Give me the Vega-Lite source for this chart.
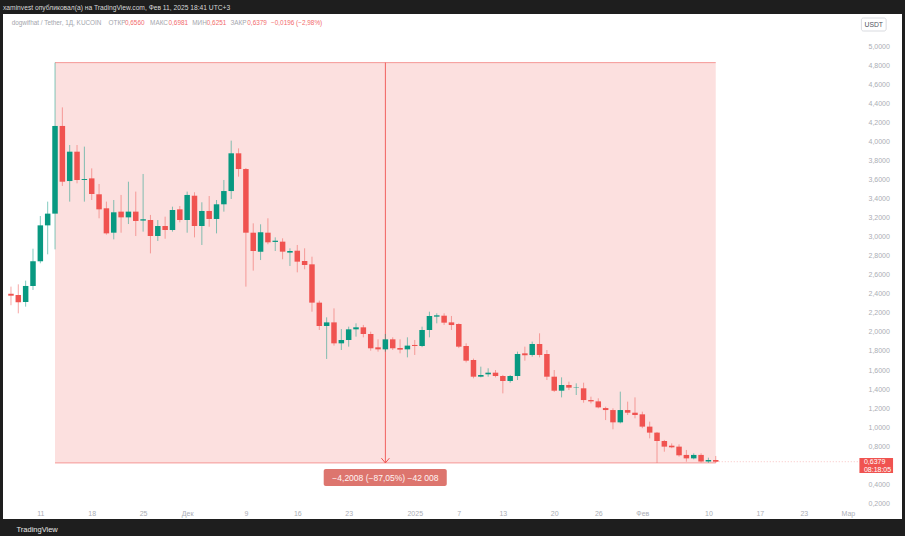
{
  "$schema": "https://vega.github.io/schema/vega-lite/v6.json",
  "width": 899,
  "height": 505,
  "autosize": {"type": "none"},
  "padding": {"left": 3, "top": 14, "right": 3, "bottom": 17},
  "background": "#1e1e1e",
  "title": {
    "text": "xaminvest опубликовал(а) на TradingView.com, Фев 11, 2025 18:41 UTC+3",
    "anchor": "start", "orient": "top", "frame": "group", "offset": 2,
    "fontSize": 6.7, "font": "Liberation Sans", "fontWeight": "normal", "color": "#d8d8d8"
  },
  "config": {
    "view": {"fill": "white", "stroke": null},
    "font": "Liberation Sans",
    "axis": {"labelOverlap": false, "labelBound": false, "labelFlush": false}
  },
  "datasets": {
    "zone": [{"start": "2024-11-13", "end": "2025-02-11", "top": 4.8257, "bottom": 0.6249, "mid": "2024-12-28"}],
    "edges": [
      {"start": "2024-11-13", "end": "2025-02-11", "level": 4.8257},
      {"start": "2024-11-13", "end": "2025-02-11", "level": 0.6249}
    ],
    "candles": [
      {"date": "2024-11-07", "open": 2.40, "high": 2.475, "low": 2.28, "close": 2.38},
      {"date": "2024-11-08", "open": 2.387, "high": 2.499, "low": 2.195, "close": 2.31},
      {"date": "2024-11-09", "open": 2.314, "high": 2.538, "low": 2.265, "close": 2.482},
      {"date": "2024-11-10", "open": 2.482, "high": 2.873, "low": 2.44, "close": 2.741},
      {"date": "2024-11-11", "open": 2.741, "high": 3.216, "low": 2.72, "close": 3.118},
      {"date": "2024-11-12", "open": 3.118, "high": 3.367, "low": 2.814, "close": 3.241},
      {"date": "2024-11-13", "open": 3.241, "high": 4.8257, "low": 2.866, "close": 4.161},
      {"date": "2024-11-14", "open": 4.161, "high": 4.356, "low": 3.531, "close": 3.576},
      {"date": "2024-11-15", "open": 3.583, "high": 3.961, "low": 3.367, "close": 3.891},
      {"date": "2024-11-16", "open": 3.891, "high": 3.961, "low": 3.559, "close": 3.594},
      {"date": "2024-11-17", "open": 3.594, "high": 3.944, "low": 3.367, "close": 3.604},
      {"date": "2024-11-18", "open": 3.611, "high": 3.716, "low": 3.384, "close": 3.447},
      {"date": "2024-11-19", "open": 3.444, "high": 3.552, "low": 3.192, "close": 3.286},
      {"date": "2024-11-20", "open": 3.297, "high": 3.367, "low": 3.02, "close": 3.034},
      {"date": "2024-11-21", "open": 3.041, "high": 3.384, "low": 2.971, "close": 3.255},
      {"date": "2024-11-22", "open": 3.262, "high": 3.437, "low": 3.041, "close": 3.202},
      {"date": "2024-11-23", "open": 3.202, "high": 3.576, "low": 3.132, "close": 3.262},
      {"date": "2024-11-24", "open": 3.262, "high": 3.472, "low": 3.006, "close": 3.164},
      {"date": "2024-11-25", "open": 3.168, "high": 3.657, "low": 3.052, "close": 3.182},
      {"date": "2024-11-26", "open": 3.174, "high": 3.227, "low": 2.824, "close": 3.006},
      {"date": "2024-11-27", "open": 3.006, "high": 3.174, "low": 2.954, "close": 3.111},
      {"date": "2024-11-28", "open": 3.111, "high": 3.209, "low": 2.978, "close": 3.069},
      {"date": "2024-11-29", "open": 3.069, "high": 3.314, "low": 3.052, "close": 3.279},
      {"date": "2024-11-30", "open": 3.286, "high": 3.321, "low": 3.15, "close": 3.174},
      {"date": "2024-12-01", "open": 3.174, "high": 3.472, "low": 3.041, "close": 3.437},
      {"date": "2024-12-02", "open": 3.429, "high": 3.465, "low": 2.992, "close": 3.111},
      {"date": "2024-12-03", "open": 3.111, "high": 3.36, "low": 2.912, "close": 3.269},
      {"date": "2024-12-04", "open": 3.269, "high": 3.426, "low": 3.104, "close": 3.185},
      {"date": "2024-12-05", "open": 3.185, "high": 3.384, "low": 3.034, "close": 3.339},
      {"date": "2024-12-06", "open": 3.339, "high": 3.594, "low": 3.262, "close": 3.478},
      {"date": "2024-12-07", "open": 3.478, "high": 4.007, "low": 3.395, "close": 3.874},
      {"date": "2024-12-08", "open": 3.874, "high": 3.926, "low": 3.629, "close": 3.709},
      {"date": "2024-12-09", "open": 3.709, "high": 3.72, "low": 2.475, "close": 3.041},
      {"date": "2024-12-10", "open": 3.041, "high": 3.139, "low": 2.643, "close": 2.849},
      {"date": "2024-12-11", "open": 2.842, "high": 3.129, "low": 2.754, "close": 3.045},
      {"date": "2024-12-12", "open": 3.041, "high": 3.192, "low": 2.92, "close": 2.94},
      {"date": "2024-12-13", "open": 2.944, "high": 2.992, "low": 2.849, "close": 2.957},
      {"date": "2024-12-14", "open": 2.947, "high": 2.982, "low": 2.762, "close": 2.842},
      {"date": "2024-12-15", "open": 2.832, "high": 2.877, "low": 2.692, "close": 2.849},
      {"date": "2024-12-16", "open": 2.852, "high": 2.912, "low": 2.625, "close": 2.737},
      {"date": "2024-12-17", "open": 2.744, "high": 2.877, "low": 2.657, "close": 2.702},
      {"date": "2024-12-18", "open": 2.709, "high": 2.789, "low": 2.212, "close": 2.307},
      {"date": "2024-12-19", "open": 2.307, "high": 2.328, "low": 2.02, "close": 2.062},
      {"date": "2024-12-20", "open": 2.062, "high": 2.153, "low": 1.716, "close": 2.1},
      {"date": "2024-12-21", "open": 2.1, "high": 2.247, "low": 1.856, "close": 1.88},
      {"date": "2024-12-22", "open": 1.88, "high": 2.03, "low": 1.81, "close": 1.915},
      {"date": "2024-12-23", "open": 1.915, "high": 2.055, "low": 1.845, "close": 2.027},
      {"date": "2024-12-24", "open": 2.027, "high": 2.09, "low": 1.95, "close": 2.048},
      {"date": "2024-12-25", "open": 2.048, "high": 2.073, "low": 1.943, "close": 1.978},
      {"date": "2024-12-26", "open": 1.978, "high": 2.002, "low": 1.803, "close": 1.828},
      {"date": "2024-12-27", "open": 1.838, "high": 1.922, "low": 1.793, "close": 1.817},
      {"date": "2024-12-28", "open": 1.817, "high": 1.978, "low": 1.793, "close": 1.922},
      {"date": "2024-12-29", "open": 1.922, "high": 1.943, "low": 1.81, "close": 1.828},
      {"date": "2024-12-30", "open": 1.831, "high": 1.922, "low": 1.775, "close": 1.814},
      {"date": "2024-12-31", "open": 1.817, "high": 1.943, "low": 1.733, "close": 1.856},
      {"date": "2025-01-01", "open": 1.863, "high": 1.915, "low": 1.758, "close": 1.852},
      {"date": "2025-01-02", "open": 1.852, "high": 2.055, "low": 1.84, "close": 2.02},
      {"date": "2025-01-03", "open": 2.02, "high": 2.212, "low": 1.943, "close": 2.167},
      {"date": "2025-01-04", "open": 2.16, "high": 2.195, "low": 2.09, "close": 2.174},
      {"date": "2025-01-05", "open": 2.17, "high": 2.195, "low": 2.073, "close": 2.097},
      {"date": "2025-01-06", "open": 2.1, "high": 2.167, "low": 2.02, "close": 2.072},
      {"date": "2025-01-07", "open": 2.083, "high": 2.09, "low": 1.83, "close": 1.845},
      {"date": "2025-01-08", "open": 1.852, "high": 1.88, "low": 1.68, "close": 1.698},
      {"date": "2025-01-09", "open": 1.705, "high": 1.72, "low": 1.513, "close": 1.53},
      {"date": "2025-01-10", "open": 1.53, "high": 1.635, "low": 1.523, "close": 1.548},
      {"date": "2025-01-11", "open": 1.555, "high": 1.618, "low": 1.53, "close": 1.572},
      {"date": "2025-01-12", "open": 1.572, "high": 1.6, "low": 1.523, "close": 1.537},
      {"date": "2025-01-13", "open": 1.537, "high": 1.548, "low": 1.355, "close": 1.485},
      {"date": "2025-01-14", "open": 1.485, "high": 1.548, "low": 1.467, "close": 1.537},
      {"date": "2025-01-15", "open": 1.537, "high": 1.793, "low": 1.495, "close": 1.768},
      {"date": "2025-01-16", "open": 1.775, "high": 1.845, "low": 1.698, "close": 1.755},
      {"date": "2025-01-17", "open": 1.758, "high": 1.898, "low": 1.74, "close": 1.873},
      {"date": "2025-01-18", "open": 1.873, "high": 1.985, "low": 1.733, "close": 1.758},
      {"date": "2025-01-19", "open": 1.768, "high": 1.81, "low": 1.495, "close": 1.53},
      {"date": "2025-01-20", "open": 1.53, "high": 1.6, "low": 1.37, "close": 1.383},
      {"date": "2025-01-21", "open": 1.383, "high": 1.523, "low": 1.313, "close": 1.443},
      {"date": "2025-01-22", "open": 1.443, "high": 1.478, "low": 1.39, "close": 1.415},
      {"date": "2025-01-23", "open": 1.414, "high": 1.46, "low": 1.338, "close": 1.418},
      {"date": "2025-01-24", "open": 1.408, "high": 1.467, "low": 1.257, "close": 1.285},
      {"date": "2025-01-25", "open": 1.285, "high": 1.32, "low": 1.25, "close": 1.271},
      {"date": "2025-01-26", "open": 1.271, "high": 1.303, "low": 1.198, "close": 1.208},
      {"date": "2025-01-27", "open": 1.201, "high": 1.215, "low": 1.075, "close": 1.18},
      {"date": "2025-01-28", "open": 1.18, "high": 1.198, "low": 0.978, "close": 1.051},
      {"date": "2025-01-29", "open": 1.051, "high": 1.373, "low": 1.04, "close": 1.18},
      {"date": "2025-01-30", "open": 1.18, "high": 1.268, "low": 1.128, "close": 1.152},
      {"date": "2025-01-31", "open": 1.152, "high": 1.313, "low": 1.093, "close": 1.128},
      {"date": "2025-02-01", "open": 1.135, "high": 1.163, "low": 0.99, "close": 1.006},
      {"date": "2025-02-02", "open": 1.006, "high": 1.058, "low": 0.883, "close": 0.943},
      {"date": "2025-02-03", "open": 0.943, "high": 0.95, "low": 0.626, "close": 0.855},
      {"date": "2025-02-04", "open": 0.855, "high": 0.866, "low": 0.743, "close": 0.796},
      {"date": "2025-02-05", "open": 0.806, "high": 0.83, "low": 0.78, "close": 0.789},
      {"date": "2025-02-06", "open": 0.796, "high": 0.82, "low": 0.691, "close": 0.705},
      {"date": "2025-02-07", "open": 0.709, "high": 0.761, "low": 0.638, "close": 0.673},
      {"date": "2025-02-08", "open": 0.673, "high": 0.726, "low": 0.663, "close": 0.709},
      {"date": "2025-02-09", "open": 0.709, "high": 0.726, "low": 0.63, "close": 0.64},
      {"date": "2025-02-10", "open": 0.64, "high": 0.68, "low": 0.626, "close": 0.656},
      {"date": "2025-02-11", "open": 0.656, "high": 0.6981, "low": 0.6251, "close": 0.6379}
    ],
    "mbox": [{"start": "2024-12-19T14:24:00Z", "end": "2025-01-05T08:38:00Z", "top": 0.5614, "bottom": 0.383}],
    "mtext": [{"date": "2024-12-28", "price": 0.472, "text": "−4,2008 (−87,05%) −42 008"}],
    "pline": [{"start": "2025-02-11", "end": "2025-03-02T13:41:00Z", "price": 0.6379}],
    "pbox": [{"start": "2025-03-02T13:41:00Z", "end": "2025-03-07T03:36:00Z", "top": 0.6768, "bottom": 0.5194}],
    "ptext": [
      {"date": "2025-03-03T04:19:00Z", "price": 0.6348, "text": "0,6379"},
      {"date": "2025-03-03T04:19:00Z", "price": 0.5561, "text": "08:18:05"}
    ],
    "legendline": [
      {"date": "2024-11-07T02:15:00Z", "price": 5.2382, "text": "dogwifhat / Tether, 1Д, KUCOIN", "part": "label"},
      {"date": "2024-11-20T07:03:00Z", "price": 5.2382, "text": "ОТКР", "part": "label"},
      {"date": "2024-11-22T12:43:00Z", "price": 5.2382, "text": "0,6560", "part": "value"},
      {"date": "2024-11-25T22:49:00Z", "price": 5.2382, "text": "МАКС", "part": "label"},
      {"date": "2024-11-28T10:58:00Z", "price": 5.2382, "text": "0,6981", "part": "value"},
      {"date": "2024-12-01T16:33:00Z", "price": 5.2382, "text": "МИН", "part": "label"},
      {"date": "2024-12-03T16:05:00Z", "price": 5.2382, "text": "0,6251", "part": "value"},
      {"date": "2024-12-06T21:40:00Z", "price": 5.2382, "text": "ЗАКР", "part": "label"},
      {"date": "2024-12-09T04:38:00Z", "price": 5.2382, "text": "0,6379", "part": "value"},
      {"date": "2024-12-12T10:13:00Z", "price": 5.2382, "text": "−0,0196 (−2,98%)", "part": "value"}
    ],
    "ubox": [{"start": "2025-03-02T20:10:00Z", "end": "2025-03-06T05:02:00Z", "top": 5.2938, "bottom": 5.1574}],
    "utext": [{"date": "2025-03-04T12:29:00Z", "price": 5.2256, "text": "USDT"}]
  },
  "layer": [
    {
      "data": {"name": "zone"},
      "mark": {"type": "rect", "color": "#ef5350", "opacity": 0.18},
      "encoding": {
        "x": {
          "field": "start", "type": "temporal",
          "scale": {"type": "utc", "domain": [1730902642560, 1741365129600]},
          "axis": {
            "values": [1731283200000, 1731888000000, 1732492800000, 1733011200000, 1733702400000, 1734307200000, 1734912000000, 1735689600000, 1736208000000, 1736726400000, 1737331200000, 1737849600000, 1738368000000, 1739145600000, 1739750400000, 1740268800000, 1740787200000],
            "tickCount": 40,
            "labelExpr": "utcdate(datum.value) == 1 ? (utcmonth(datum.value) == 0 ? '2025' : ['Янв','Фев','Мар','Апр','Май','Июн','Июл','Авг','Сен','Окт','Ноя','Дек'][utcmonth(datum.value)]) : '' + utcdate(datum.value)",
            "domain": false, "ticks": false, "tickSize": 0, "grid": false,
            "offset": -11, "labelPadding": 1, "labelAngle": 0,
            "labelColor": "#abaeb5", "labelFontSize": 7, "labelFont": "Liberation Sans",
            "labelFlush": false, "labelOverlap": false, "labelBound": false,
            "title": "TradingView", "titleColor": "#e8e8e8", "titleFontSize": 7.5,
            "titleFontWeight": "normal", "titleFont": "Liberation Sans",
            "titleAnchor": "start", "titleAlign": "left", "titleBaseline": "middle",
            "titleX": 13, "titleY": 21
          }
        },
        "x2": {"field": "end"},
        "y": {
          "field": "top", "type": "quantitative",
          "scale": {"domain": [0.0367, 5.3358], "nice": false, "zero": false},
          "axis": {
            "orient": "right",
            "values": [5, 4.8, 4.6, 4.4, 4.2, 4, 3.8, 3.6, 3.4, 3.2, 3, 2.8, 2.6, 2.4, 2.2, 2, 1.8, 1.6, 1.4, 1.2, 1, 0.8, 0.4, 0.2],
            "tickCount": 40,
            "labelExpr": "replace(format(datum.value, '.4f'), '.', ',')",
            "domain": false, "ticks": false, "tickSize": 0, "grid": false,
            "offset": -36, "labelPadding": 2, "labelAlign": "left", "labelBaseline": "middle",
            "labelColor": "#abaeb5", "labelFontSize": 7, "labelFont": "Liberation Sans",
            "labelFlush": false, "labelOverlap": false, "labelBound": false,
            "title": null
          }
        },
        "y2": {"field": "bottom"}
      }
    },
    {
      "data": {"name": "edges"},
      "mark": {"type": "rule", "color": "#ef5350", "opacity": 0.55, "strokeWidth": 1},
      "encoding": {
        "x": {"field": "start", "type": "temporal", "scale": {"type": "utc"}},
        "x2": {"field": "end"},
        "y": {"field": "level", "type": "quantitative"}
      }
    },
    {
      "data": {"name": "zone"},
      "mark": {"type": "rule", "color": "#ef5350", "strokeWidth": 1, "opacity": 0.9},
      "encoding": {
        "x": {"field": "mid", "type": "temporal", "scale": {"type": "utc"}},
        "y": {"field": "top", "type": "quantitative"},
        "y2": {"field": "bottom"}
      }
    },
    {
      "data": {"name": "candles"},
      "mark": {"type": "rule", "strokeWidth": 1, "opacity": 0.5},
      "encoding": {
        "x": {"field": "date", "type": "temporal", "scale": {"type": "utc"}},
        "y": {"field": "low", "type": "quantitative"},
        "y2": {"field": "high"},
        "color": {"condition": {"test": "datum.close >= datum.open", "value": "#089981"}, "value": "#f05350"}
      }
    },
    {
      "data": {"name": "candles"},
      "mark": {"type": "bar", "size": 5.5},
      "encoding": {
        "x": {"field": "date", "type": "temporal", "scale": {"type": "utc"}},
        "y": {"field": "open", "type": "quantitative"},
        "y2": {"field": "close"},
        "color": {"condition": {"test": "datum.close >= datum.open", "value": "#089981"}, "value": "#f05350"}
      }
    },
    {
      "data": {"name": "zone"},
      "mark": {"type": "point", "shape": "M-1,-1.2L0,0L1,-1.2", "filled": false, "stroke": "#ef5350", "strokeWidth": 1, "size": 64, "opacity": 1},
      "encoding": {
        "x": {"field": "mid", "type": "temporal", "scale": {"type": "utc"}},
        "y": {"field": "bottom", "type": "quantitative"}
      }
    },
    {
      "data": {"name": "mbox"},
      "mark": {"type": "rect", "color": "#dd756e", "cornerRadius": 2},
      "encoding": {
        "x": {"field": "start", "type": "temporal", "scale": {"type": "utc"}},
        "x2": {"field": "end"},
        "y": {"field": "top", "type": "quantitative"},
        "y2": {"field": "bottom"}
      }
    },
    {
      "data": {"name": "mtext"},
      "mark": {"type": "text", "color": "#fff4f3", "fontSize": 8.5, "font": "Liberation Sans", "align": "center", "baseline": "middle"},
      "encoding": {
        "x": {"field": "date", "type": "temporal", "scale": {"type": "utc"}},
        "y": {"field": "price", "type": "quantitative"},
        "text": {"field": "text"}
      }
    },
    {
      "data": {"name": "pline"},
      "mark": {"type": "rule", "color": "#ef5350", "opacity": 0.35, "strokeWidth": 1, "strokeDash": [1, 2]},
      "encoding": {
        "x": {"field": "start", "type": "temporal", "scale": {"type": "utc"}},
        "x2": {"field": "end"},
        "y": {"field": "price", "type": "quantitative"}
      }
    },
    {
      "data": {"name": "pbox"},
      "mark": {"type": "rect", "color": "#f05350"},
      "encoding": {
        "x": {"field": "start", "type": "temporal", "scale": {"type": "utc"}},
        "x2": {"field": "end"},
        "y": {"field": "top", "type": "quantitative"},
        "y2": {"field": "bottom"}
      }
    },
    {
      "data": {"name": "ptext"},
      "mark": {"type": "text", "color": "#ffffff", "fontSize": 7, "font": "Liberation Sans", "align": "left", "baseline": "middle"},
      "encoding": {
        "x": {"field": "date", "type": "temporal", "scale": {"type": "utc"}},
        "y": {"field": "price", "type": "quantitative"},
        "text": {"field": "text"}
      }
    },
    {
      "data": {"name": "legendline"},
      "mark": {"type": "text", "fontSize": 6.4, "font": "Liberation Sans", "align": "left", "baseline": "middle"},
      "encoding": {
        "x": {"field": "date", "type": "temporal", "scale": {"type": "utc"}},
        "y": {"field": "price", "type": "quantitative"},
        "text": {"field": "text"},
        "color": {"field": "part", "type": "nominal", "scale": {"domain": ["label", "value"], "range": ["#a3a6ad", "#f26b6b"]}, "legend": null}
      }
    },
    {
      "data": {"name": "ubox"},
      "mark": {"type": "rect", "fill": "#ffffff", "stroke": "#d9dbe0", "strokeWidth": 1, "cornerRadius": 2},
      "encoding": {
        "x": {"field": "start", "type": "temporal", "scale": {"type": "utc"}},
        "x2": {"field": "end"},
        "y": {"field": "top", "type": "quantitative"},
        "y2": {"field": "bottom"}
      }
    },
    {
      "data": {"name": "utext"},
      "mark": {"type": "text", "color": "#50535e", "fontSize": 6.8, "font": "Liberation Sans", "align": "center", "baseline": "middle"},
      "encoding": {
        "x": {"field": "date", "type": "temporal", "scale": {"type": "utc"}},
        "y": {"field": "price", "type": "quantitative"},
        "text": {"field": "text"}
      }
    }
  ]
}
